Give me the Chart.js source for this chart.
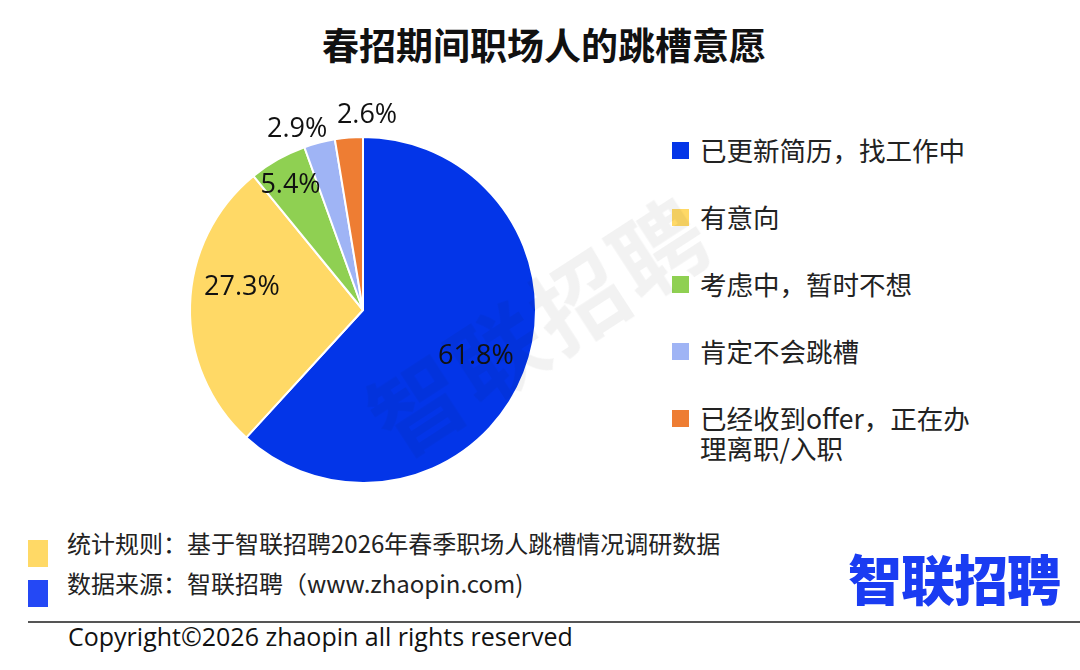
<!DOCTYPE html>
<html>
<head>
<meta charset="utf-8">
<script src="https://cdn.jsdelivr.net/npm/chart.js@4"></script>
<style>
  body { margin: 0; background: #fff; font-family: "Noto Sans CJK SC", "Noto Sans", sans-serif; }
  #page { position: relative; width: 1080px; height: 670px; overflow: hidden; }
  #title { position: absolute; top: 17px; left: 0; width: 1088px; text-align: center; font-size: 37px; font-weight: bold; color: #111; }
  #pieWrap { position: absolute; left: 148px; top: 100px; width: 430px; height: 420px; }
  #legend { position: absolute; left: 672px; top: 135px; }
  .item { position: relative; padding-left: 28px; font-size: 26.5px; color: #222; line-height: 30px; margin-bottom: 37px; width: 292px; }
  .item span.box { position: absolute; left: 0; top: 7px; width: 17px; height: 17px; }
  #notes { position: absolute; left: 28px; top: 528px; font-size: 24px; color: #222; }
  .note { position: relative; padding-left: 39px; height: 40px; line-height: 30px; }
  .note span.bar { position: absolute; left: 0; top: 12px; width: 20px; height: 27px; }
  #rule { position: absolute; left: 28px; top: 621px; width: 1060px; height: 2px; background: #555; }
  #copy { position: absolute; left: 68px; top: 619px; font-size: 25px; color: #111; font-family: "Open Sans", "Noto Sans", sans-serif; }
  #logo { position: absolute; left: 848px; top: 538px; font-size: 54px; font-weight: 900; color: #1a3cf2; letter-spacing: -1px; }
  #wm { position: absolute; left: 345px; top: 255px; font-size: 92px; font-weight: bold; color: rgba(0,0,0,0.05); transform: rotate(-33deg); pointer-events: none; letter-spacing: 4px; }
</style>
</head>
<body>
<div id="page">
  <div id="title">春招期间职场人的跳槽意愿</div>
  <div id="pieWrap"><canvas id="pie"></canvas></div>
  <div id="legend"></div>
  <div id="wm">智联招聘</div>
  <div id="notes">
    <div class="note"><span class="bar" style="background:#ffd966"></span>统计规则：基于智联招聘2026年春季职场人跳槽情况调研数据</div>
    <div class="note"><span class="bar" style="background:#2448f5"></span>数据来源：智联招聘（www.zhaopin.com)</div>
  </div>
  <div id="logo">智联招聘</div>
  <div id="rule"></div>
  <div id="copy">Copyright©2026 zhaopin all rights reserved</div>
</div>
<script>
// categories and values (percent)
const categories = ['已更新简历，找工作中', '有意向', '考虑中，暂时不想', '肯定不会跳槽', '已经收到offer，正在办理离职/入职'];
const shares = [61.8, 27.3, 5.4, 2.9, 2.6];
const sliceColors = ['#0335e8', '#ffd966', '#8fd052', '#9fb4f5', '#ee7d33'];

// legend built from the same arrays
const legendEl = document.getElementById('legend');
categories.forEach((c, i) => {
    const d = document.createElement('div');
    d.className = 'item';
    d.innerHTML = '<span class="box" style="background:' + sliceColors[i] + '"></span>' + c;
    legendEl.appendChild(d);
});

// draws the percentage labels, some pushed outside the pie
const pctLabels = {
    id: 'pctLabels',
    afterDatasetsDraw(chart, args, opts) {
        const ctx = chart.ctx;
        const meta = chart.getDatasetMeta(0);
        ctx.save();
        ctx.font = '27px "Open Sans", "Noto Sans", sans-serif';
        ctx.fillStyle = '#111';
        ctx.textAlign = 'center';
        ctx.textBaseline = 'middle';
        meta.data.forEach((arc, i) => {
            const p = arc.getProps(['x', 'y', 'startAngle', 'endAngle', 'outerRadius']);
            const mid = (p.startAngle + p.endAngle) / 2;
            const r = p.outerRadius * opts.radius[i];
            const x = p.x + Math.cos(mid) * r;
            const y = p.y + Math.sin(mid) * r;
            ctx.fillText(shares[i].toFixed(1) + '%', x + opts.dx[i], y + opts.dy[i]);
        });
        ctx.restore();
    }
};

new Chart(document.getElementById('pie'), {
    type: 'pie',
    data: {
        labels: categories,
        datasets: [{
            data: shares,
            backgroundColor: sliceColors,
            borderColor: '#fff',
            borderWidth: 2
        }]
    },
    options: {
        responsive: true,
        maintainAspectRatio: false,
        animation: false,
        layout: { padding: 36 },
        plugins: {
            legend: { display: false },
            tooltip: { enabled: false },
            pctLabels: {
                radius: [0.7, 0.7, 0.85, 1.1, 1.13],
                dx: [0, 0, 0, -18, 20],
                dy: [2, -19, 3, 3, 0]
            }
        }
    },
    plugins: [pctLabels]
});
</script>
</body>
</html>
